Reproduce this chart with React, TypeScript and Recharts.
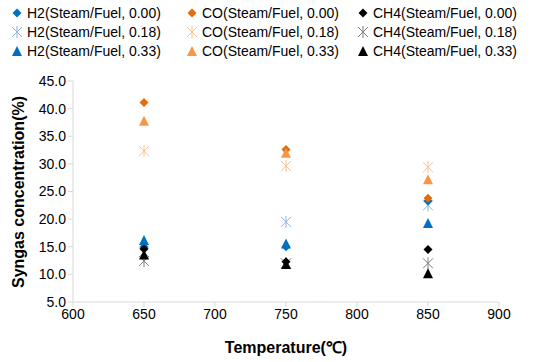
import { ScatterChart, Scatter, XAxis, YAxis } from 'recharts'

const temps = [650, 750, 850]

const h2Sf000 = [15.0, 15.0, 23.3]
const h2Sf018 = [14.0, 19.5, 22.5]
const h2Sf033 = [16.2, 15.6, 19.3]
const coSf000 = [41.1, 32.6, 23.8]
const coSf018 = [32.3, 29.6, 29.4]
const coSf033 = [37.8, 32.0, 27.2]
const ch4Sf000 = [14.6, 12.3, 14.5]
const ch4Sf018 = [12.4, 12.0, 12.0]
const ch4Sf033 = [13.6, 11.9, 10.2]

const xTicks = [600, 650, 700, 750, 800, 850, 900]
const yTicks = [5, 10, 15, 20, 25, 30, 35, 40, 45]

type Marker = 'diamond' | 'star' | 'triangle'

const series: Array<{ name: string; values: number[]; color: string; marker: Marker }> = [
  { name: 'H2(Steam/Fuel, 0.00)', values: h2Sf000, color: '#0070C0', marker: 'diamond' },
  { name: 'CO(Steam/Fuel, 0.00)', values: coSf000, color: '#E46C0A', marker: 'diamond' },
  { name: 'CH4(Steam/Fuel, 0.00)', values: ch4Sf000, color: '#000000', marker: 'diamond' },
  { name: 'H2(Steam/Fuel, 0.18)', values: h2Sf018, color: '#8EB4E3', marker: 'star' },
  { name: 'CO(Steam/Fuel, 0.18)', values: coSf018, color: '#FAC090', marker: 'star' },
  { name: 'CH4(Steam/Fuel, 0.18)', values: ch4Sf018, color: '#7F7F7F', marker: 'star' },
  { name: 'H2(Steam/Fuel, 0.33)', values: h2Sf033, color: '#0070C0', marker: 'triangle' },
  { name: 'CO(Steam/Fuel, 0.33)', values: coSf033, color: '#F79646', marker: 'triangle' },
  { name: 'CH4(Steam/Fuel, 0.33)', values: ch4Sf033, color: '#000000', marker: 'triangle' },
]

// draw order: stars first, then diamonds, triangles on top
const drawOrder = [3, 4, 5, 0, 1, 2, 6, 7, 8]

const font = '"Liberation Sans", Arial, sans-serif'

function MarkerGlyph({ cx, cy, color, marker }: { cx: number; cy: number; color: string; marker: Marker }) {
  if (marker === 'diamond') {
    const r = 4.5
    return <path d={`M${cx},${cy - r}L${cx + r},${cy}L${cx},${cy + r}L${cx - r},${cy}Z`} fill={color} />
  }
  if (marker === 'triangle') {
    const r = 5
    return <path d={`M${cx},${cy - r}L${cx + r},${cy + r}L${cx - r},${cy + r}Z`} fill={color} />
  }
  const r = 5
  return (
    <g stroke={color} strokeWidth={1}>
      <line x1={cx} y1={cy - r - 1} x2={cx} y2={cy + r + 1} />
      <line x1={cx - r} y1={cy - r} x2={cx + r} y2={cy + r} />
      <line x1={cx - r} y1={cy + r} x2={cx + r} y2={cy - r} />
    </g>
  )
}

const legendCols = [17, 192, 363]
const legendRows = [13, 32, 51]

function LegendBox() {
  return (
    <svg width={534} height={64} style={{ position: 'absolute', left: 0, top: 0 }}>
      {series.map((s, i) => {
        const x = legendCols[i % 3]
        const y = legendRows[Math.floor(i / 3)]
        return (
          <g key={s.name}>
            <MarkerGlyph cx={x} cy={y} color={s.color} marker={s.marker} />
            <text x={x + 10} y={y + 5} fontSize={14} fontFamily={font} fill="#000">
              {s.name}
            </text>
          </g>
        )
      })}
    </svg>
  )
}

export default function App() {
  return (
    <div style={{ position: 'absolute', left: 0, top: 0, width: 534, height: 362, background: '#fff' }}>
      <ScatterChart width={534} height={362} margin={{ top: 81, right: 35, bottom: 30, left: 0 }}>
        <XAxis
          type="number"
          dataKey="x"
          domain={[600, 900]}
          ticks={xTicks}
          interval={0}
          height={30}
          axisLine={{ stroke: '#D9D9D9' }}
          tickLine={{ stroke: '#D9D9D9' }}
          tickSize={5}
          tick={{ fontSize: 14, fill: '#000', fontFamily: font }}
        />
        <YAxis
          type="number"
          dataKey="y"
          domain={[5, 45]}
          ticks={yTicks}
          interval={0}
          width={73}
          axisLine={{ stroke: '#D9D9D9' }}
          tickLine={{ stroke: '#D9D9D9' }}
          tickSize={5}
          tickFormatter={(v: number) => v.toFixed(1)}
          tick={{ fontSize: 14, fill: '#000', fontFamily: font }}
        />
        {drawOrder.map((i) => {
          const s = series[i]
          return (
            <Scatter
              key={s.name}
              name={s.name}
              data={temps.map((t, k) => ({ x: t, y: s.values[k] }))}
              isAnimationActive={false}
              shape={(p: any) => <MarkerGlyph cx={p.cx} cy={p.cy} color={s.color} marker={s.marker} />}
            />
          )
        })}
        <text x={286} y={353} textAnchor="middle" fontSize={16} fontWeight="bold" fontFamily={font} fill="#000">
          Temperature(℃)
        </text>
        <text
          x={24}
          y={192}
          transform="rotate(-90 24 192)"
          textAnchor="middle"
          fontSize={16}
          fontWeight="bold"
          fontFamily={font}
          fill="#000"
        >
          Syngas concentration(%)
        </text>
      </ScatterChart>
      <LegendBox />
    </div>
  )
}
